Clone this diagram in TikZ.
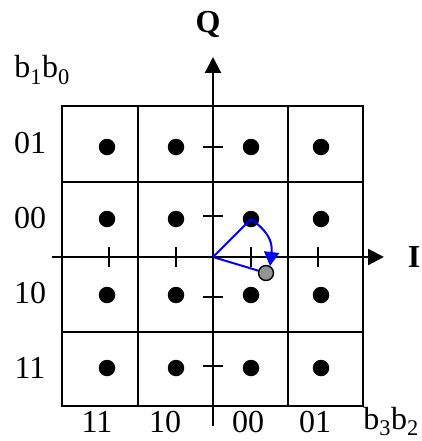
\documentclass[tikz,border=0pt]{standalone}
\usepackage{fontspec}
\setmainfont{Liberation Serif}
\usetikzlibrary{arrows.meta}
\begin{document}
\begin{tikzpicture}[x=1pt,y=-1pt,
  gridline/.style={line width=2.2pt},
  axisline/.style={line width=2.2pt},
  ticks/.style={line width=1.8pt},
  dot/.style={circle,fill=black,inner sep=0pt,minimum size=16.5pt},
  lbl/.style={font=\fontsize{32}{36}\selectfont,inner sep=0pt},
  blueline/.style={blue,line width=2pt},
]
\useasboundingbox (0,0) rectangle (422,441);
% grid
\draw[gridline] (62,106) rectangle (363,406);
\foreach \x in {138,288} \draw[gridline] (\x,106) -- (\x,406);
\foreach \y in {182,332} \draw[gridline] (62,\y) -- (363,\y);
% axes
\coordinate (hstart) at (52,257);
\coordinate (hend) at (384,257);
\coordinate (vstart) at (213,426);
\coordinate (vend) at (213,57);
\draw[axisline,-{Triangle[length=16pt,width=16pt]}] (hstart) -- (hend);
\draw[axisline,-{Triangle[length=16pt,width=16pt]}] (vstart) -- (vend);
% ticks
\foreach \x in {109,176,251,318} \draw[ticks] (\x,247) -- (\x,267);
\foreach \y in {147,216,297,366} \draw[ticks] (203,\y) -- (223,\y);
% dots
\foreach \x/\i in {107/1,176/2,251/3,321/4}
  \foreach \y/\j in {147/1,219/2,295/3,368/4}
    \node[dot] (d\i\j) at (\x,\y) {};
% blue vectors
\coordinate (O) at (213,257);
\node[circle,draw=black,fill=gray!85,line width=1.4pt,inner sep=0pt,minimum size=15pt] (g) at (266,273) {};
\draw[blueline] (O) -- (d32.center);
\draw[blueline] (O) -- (g);
\coordinate (tip) at (270,266);
\draw[blueline,-{Triangle[length=14pt,width=15pt]}] (d32.center) .. controls (266,230) and (273,240) .. (tip);
% labels
\node[lbl,font=\fontsize{32}{36}\selectfont\bfseries] (Q) at (208,25) {Q};
\node[lbl,font=\fontsize{32}{36}\selectfont\bfseries] (I) at (414,257) {I};
\node[lbl] (b10) at (42,70) {b\textsubscript{1}b\textsubscript{0}};
\node[lbl] (r1) at (30,143) {01};
\node[lbl] (r2) at (30,218) {00};
\node[lbl] (r3) at (30,293) {10};
\node[lbl] (r4) at (30,368) {11};
\node[lbl,anchor=base] (c1) at (97,432) {11};
\node[lbl,anchor=base] (c2) at (165,432) {10};
\node[lbl,anchor=base] (c3) at (248,432) {00};
\node[lbl,anchor=base] (c4) at (315,432) {01};
\node[lbl,anchor=base east] (b32) at (419,429) {b\textsubscript{3}b\textsubscript{2}};
\end{tikzpicture}
\end{document}
